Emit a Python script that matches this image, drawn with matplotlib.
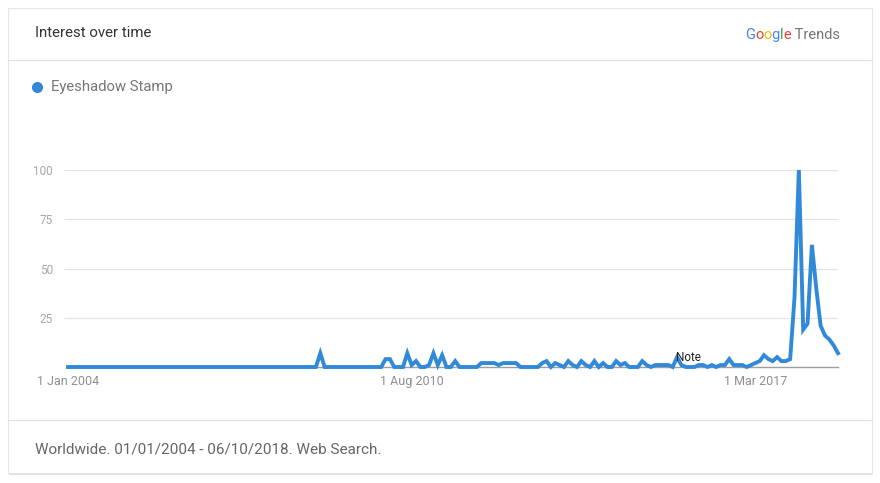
import matplotlib
matplotlib.use("Agg")
import matplotlib.pyplot as plt
from matplotlib.patches import Rectangle

# monthly interest, Jan 2004 .. Oct 2018
values = [0] * 58 + [7] + [0] * 14 + [
    4, 4, 0, 0, 0, 7, 1, 3, 0, 0, 1, 7, 1, 6, 0, 0, 3, 0, 0, 0, 0, 0,
    2, 2, 2, 2, 1, 2, 2, 2, 2, 0, 0, 0, 0, 0,
    2, 3, 0, 2, 1, 0, 3, 1, 0, 3, 1, 0, 3, 0, 2, 0, 0, 3, 1, 2, 0, 0, 0,
    3, 1, 0, 1, 1, 1, 1, 0, 5, 1, 0, 0, 0, 1, 1, 0, 1, 0, 1, 1, 4,
    1, 1, 1, 0, 1, 2, 3, 6, 4, 3, 5, 3, 3, 4, 35, 100,
    19, 22, 62, 40, 21, 16, 14, 11, 7]
months = list(range(len(values)))
xtick_pos = [0, 79, 158]
xtick_labels = ["1 Jan 2004", "1 Aug 2010", "1 Mar 2017"]
yticks = [25, 50, 75, 100]
series_name = "Eyeshadow Stamp"
note_month = 140

W, H = 880, 483
plt.rcParams['font.family'] = ['Roboto', 'DejaVu Sans']

fig = plt.figure(figsize=(W / 100, H / 100), dpi=100)
fig.patch.set_facecolor("white")

def fx(px):
    return px / W

def fy(py):
    return 1 - py / H

# card with soft shadow
fig.patches.append(Rectangle((fx(9), fy(475)), fx(864), 467 / H, transform=fig.transFigure,
                             facecolor="#dddddd", edgecolor="none", zorder=-3))
fig.patches.append(Rectangle((fx(8), fy(473)), fx(864), 465 / H, transform=fig.transFigure,
                             facecolor="white", edgecolor="#e6e6e6", lw=0.8, zorder=-2))
for py in (60, 420):
    fig.add_artist(plt.Line2D([fx(8), fx(872)], [fy(py), fy(py)], transform=fig.transFigure,
                              color="#e0e0e0", lw=0.9, zorder=2))

fig.text(fx(35), fy(33), "Interest over time", fontsize=10.8, color="#333333", va="center")
fig.text(fx(35), fy(449), "Worldwide. 01/01/2004 - 06/10/2018. Web Search.", fontsize=11,
         color="#666666", va="center")

# Google Trends logo, letter by letter
renderer = fig.canvas.get_renderer()
logo = [("G", "#4285F4"), ("o", "#EA4335"), ("o", "#FBBC05"), ("g", "#4285F4"),
        ("l", "#34A853"), ("e", "#EA4335"), (" Trends", "#757575")]
xpos = 745
for ch, col in logo:
    t = fig.text(fx(xpos), fy(35), ch, fontsize=10.5, color=col, va="center")
    xpos += t.get_window_extent(renderer).width

# legend
fig.add_artist(plt.Line2D([fx(37)], [fy(87)], marker="o", markersize=7, color="#3388d8",
                          transform=fig.transFigure))
fig.text(fx(51), fy(87), series_name, fontsize=10.7, color="#777777", va="center")

ax = fig.add_axes([fx(68), fy(367), fx(838) - fx(68), (367 - 170) / H])
ax.set_zorder(3)
ax.plot(months, values, color="#3189d9", lw=2.8, solid_joinstyle="miter", clip_on=False, zorder=3)
ax.set_xlim(0, len(values) - 1)
ax.set_ylim(0, 100)
ax.set_yticks(yticks)
ax.set_yticklabels([str(v) for v in yticks])
ax.set_xticks(xtick_pos)
ax.set_xticklabels(xtick_labels)
ax.grid(axis="y", color="#e3e3e3", lw=0.9)
ax.tick_params(axis="y", length=3, color="#e3e3e3", labelsize=8.5, labelcolor="#a6a6a6", pad=8)
ax.tick_params(axis="x", length=0, labelsize=9, labelcolor="#8f8f8f", pad=6)
for s in ("top", "right", "left"):
    ax.spines[s].set_visible(False)
ax.spines["bottom"].set_color("#9e9e9e")
ax.spines["bottom"].set_linewidth(1)
ax.set_facecolor("none")

ax.text(note_month - 0.3, 5, "Note", fontsize=8.5, color="#222222", ha="left",
        va="center", zorder=4)

fig.savefig("out.png", dpi=100)
